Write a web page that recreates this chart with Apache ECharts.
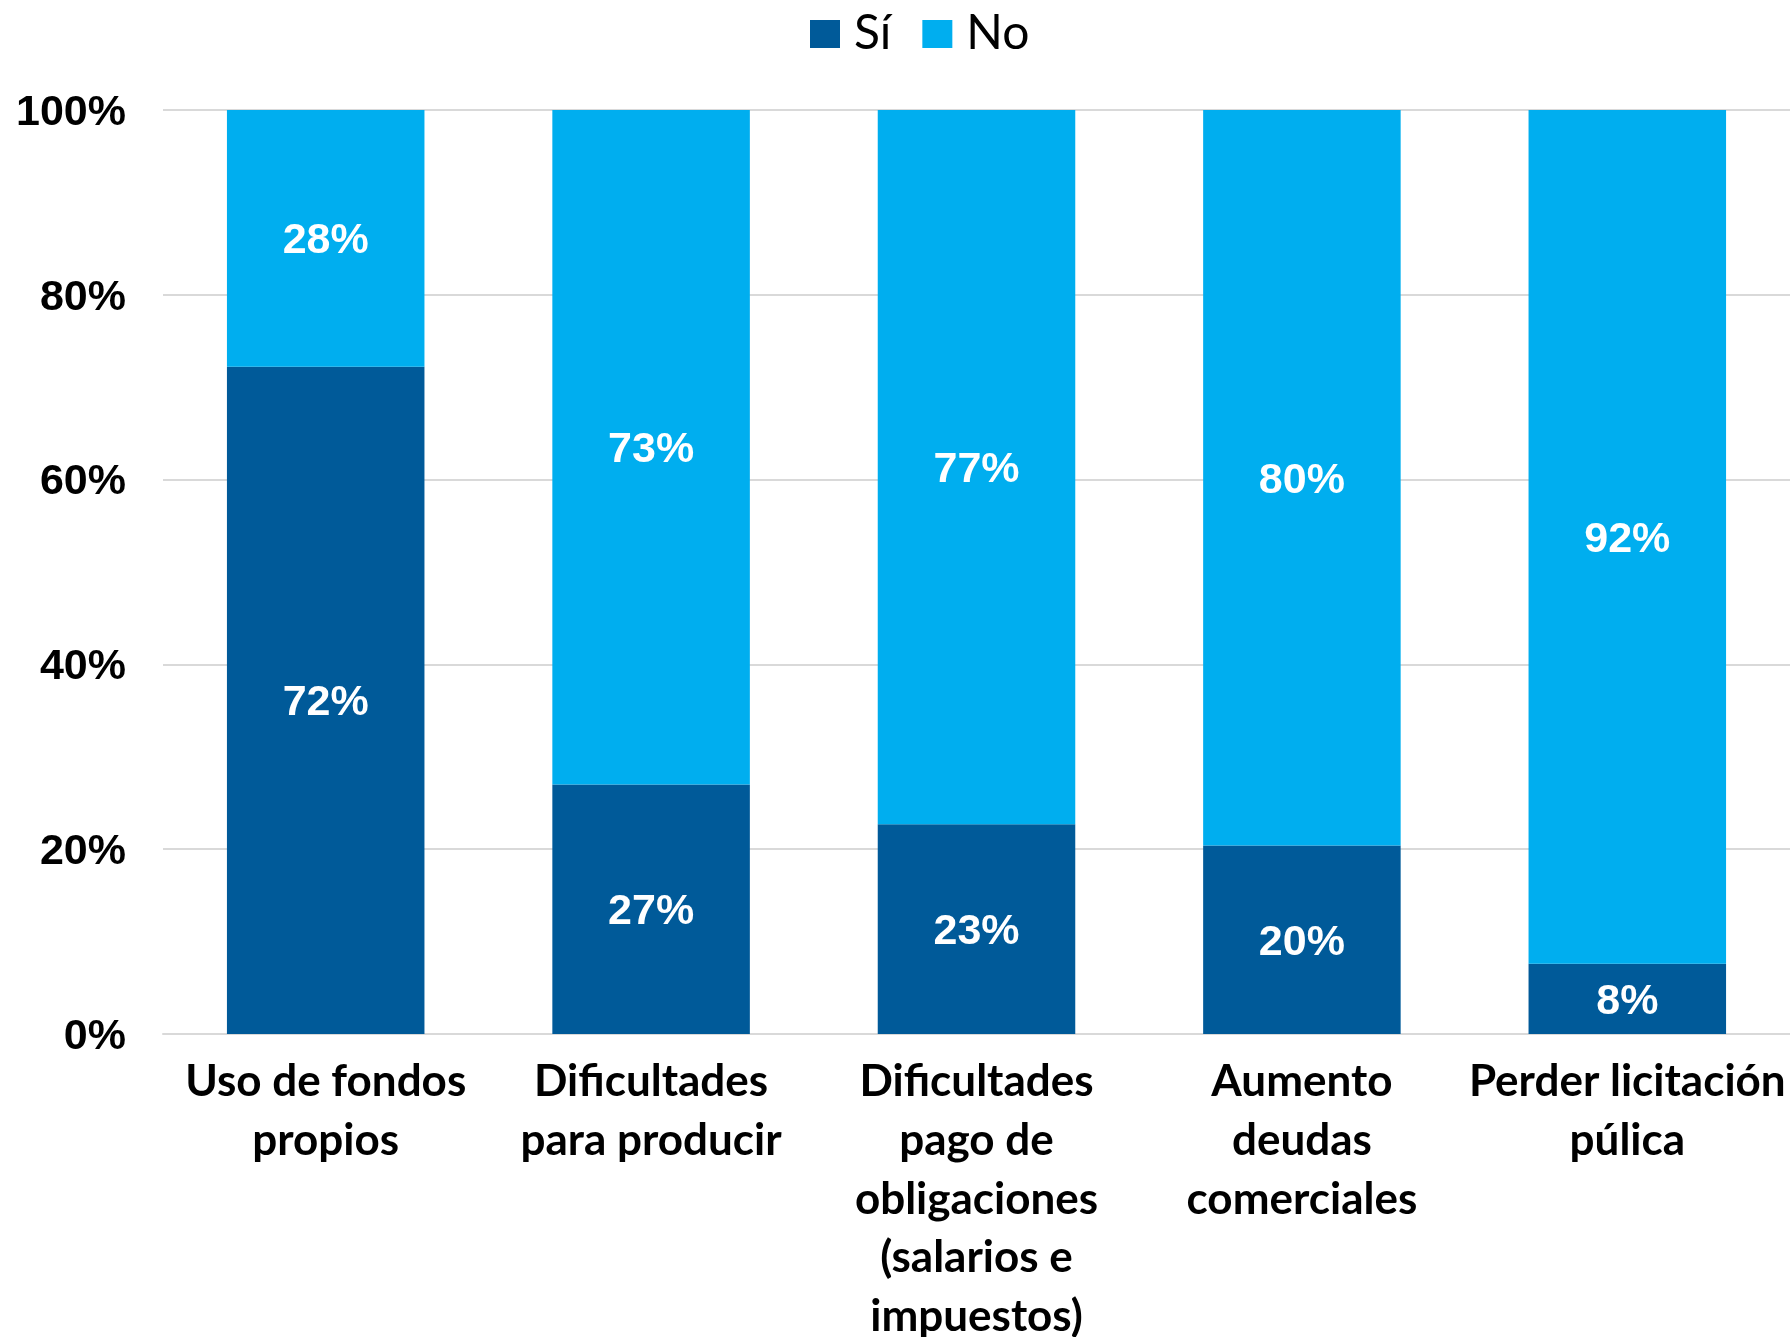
<!DOCTYPE html>
<html><head><meta charset="utf-8">
<script src="https://cdn.jsdelivr.net/npm/echarts@6/dist/echarts.min.js"></script>
<style>html,body{margin:0;padding:0;background:#fff}#c{width:1790px;height:1337px}</style>
</head><body><div id="c"></div>
<script>
const categories = ["Uso de fondos\npropios", "Dificultades\npara producir", "Dificultades\npago de\nobligaciones\n(salarios e\nimpuestos)", "Aumento\ndeudas\ncomerciales", "Perder licitación\npúlica"];
const seriesNames = ["Sí", "No"];
const siValues = [72.2, 27.0, 22.7, 20.4, 7.6];
const noValues = [27.8, 73.0, 77.3, 79.6, 92.4];
const yTicks = [0, 20, 40, 60, 80, 100];

const chart = echarts.init(document.getElementById('c'), null, {renderer: 'canvas'});
const labelStyle = {
  show: true, position: 'inside', color: '#fff', offset: [0, 3],
  fontFamily: 'Liberation Sans', fontWeight: 'bold', fontSize: 43,
  formatter: p => Math.round(p.value) + '%'
};
chart.setOption({
  animation: false,
  legend: {
    data: seriesNames, top: 5, left: 805,
    itemWidth: 30, itemHeight: 28, itemGap: 31,
    textStyle: {fontFamily: 'Lato', fontSize: 48, color: '#000', padding: [0, 0, 0, 9]},
    icon: 'rect'
  },
  grid: {left: 163, right: 0, top: 110, bottom: 303, containLabel: false, outerBoundsMode: 'none'},
  xAxis: {
    type: 'category', data: categories,
    axisTick: {show: false},
    axisLine: {lineStyle: {color: '#D9D9D9', width: 2}},
    axisLabel: {
      interval: 0, margin: 19, color: '#000',
      fontFamily: 'Lato', fontWeight: 'bold', fontSize: 44, lineHeight: 58.6
    }
  },
  yAxis: {
    type: 'value', min: 0, max: 100, interval: 20,
    axisLine: {show: false}, axisTick: {show: false},
    splitLine: {lineStyle: {color: '#D9D9D9', width: 2}},
    axisLabel: {
      margin: 37, color: '#000', fontFamily: 'Liberation Sans', fontWeight: 'bold', fontSize: 43,
      formatter: v => yTicks.includes(v) ? '{v|' + v + '%}' : '',
      rich: {v: {fontFamily: 'Liberation Sans', fontWeight: 'bold', fontSize: 43, color: '#000', padding: [6, 0, 0, 0]}}
    }
  },
  series: [
    {name: seriesNames[0], type: 'bar', stack: 'a', data: siValues, barWidth: '60.7%',
     itemStyle: {color: '#005A99'}, label: labelStyle},
    {name: seriesNames[1], type: 'bar', stack: 'a', data: noValues, barWidth: '60.7%',
     itemStyle: {color: '#00AEEF'}, label: labelStyle}
  ]
});
</script></body></html>
